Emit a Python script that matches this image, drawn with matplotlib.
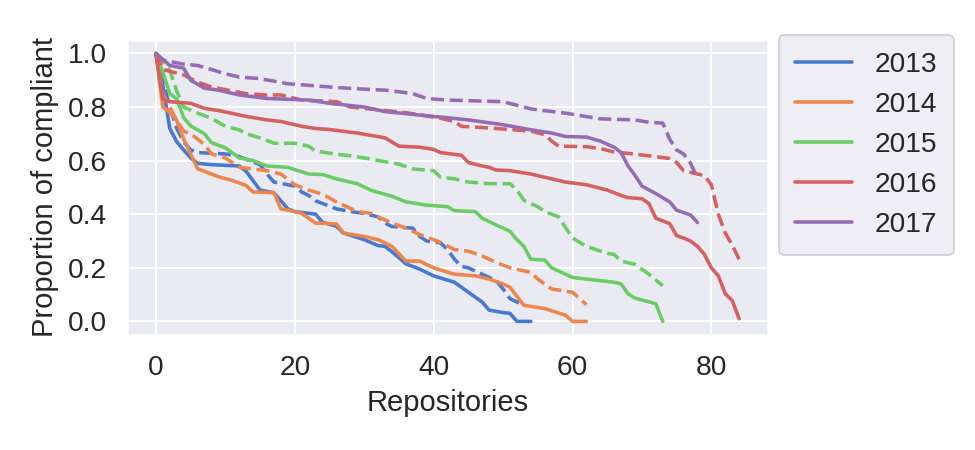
import matplotlib
matplotlib.use("Agg")
import matplotlib.pyplot as plt
import seaborn as sns

# =============================================================================
# Data (knots along each curve)
# =============================================================================

years = ['2013', '2014', '2015', '2016', '2017']

x13s = [0, 1, 2, 3, 4, 5, 6, 8, 12, 13, 14, 15, 17, 18, 19, 20, 23, 24, 26, 27, 30, 32, 33, 34, 36, 38, 40, 43, 45, 47, 48, 50, 51, 52, 54]
y13s = [1.0, 0.88, 0.72, 0.67, 0.64, 0.61, 0.59, 0.585, 0.58, 0.56, 0.525, 0.49, 0.48, 0.45, 0.42, 0.41, 0.40, 0.37, 0.355, 0.33, 0.305, 0.283, 0.28, 0.26, 0.215, 0.195, 0.17, 0.146, 0.109, 0.072, 0.042, 0.033, 0.03, 0.0, 0.0]
x13d = [0, 1, 2, 3, 4, 5, 6, 10, 12, 15, 16, 17, 20, 21, 22, 23, 24, 25, 26, 28, 30, 32, 33, 34, 37, 38, 39, 41, 42, 43, 44, 45, 47, 48, 49, 50, 51, 53]
y13d = [1.0, 0.9, 0.8, 0.72, 0.67, 0.64, 0.63, 0.625, 0.615, 0.585, 0.55, 0.52, 0.505, 0.483, 0.47, 0.45, 0.44, 0.43, 0.42, 0.41, 0.403, 0.39, 0.367, 0.354, 0.348, 0.317, 0.30, 0.293, 0.268, 0.232, 0.205, 0.20, 0.176, 0.164, 0.152, 0.121, 0.085, 0.06]

x14s = [0, 1, 2, 3, 4, 5, 6, 9, 11, 13, 14, 17, 18, 20, 21, 23, 26, 27, 30, 32, 33, 34, 36, 38, 40, 43, 46, 48, 50, 51, 53, 56, 59, 60, 62]
y14s = [1.0, 0.80, 0.78, 0.75, 0.68, 0.625, 0.57, 0.54, 0.526, 0.507, 0.483, 0.48, 0.42, 0.41, 0.403, 0.367, 0.364, 0.33, 0.317, 0.305, 0.293, 0.28, 0.225, 0.225, 0.20, 0.176, 0.17, 0.158, 0.14, 0.127, 0.06, 0.048, 0.023, 0.0, 0.0]
x14d = [0, 1, 2, 3, 4, 5, 7, 8, 10, 12, 14, 16, 18, 20, 22, 24, 26, 27, 29, 31, 32, 34, 36, 38, 40, 41, 43, 45, 47, 49, 51, 54, 55, 57, 60, 62]
y14d = [1.0, 0.85, 0.80, 0.75, 0.71, 0.70, 0.66, 0.625, 0.61, 0.575, 0.569, 0.5625, 0.55, 0.51, 0.49, 0.475, 0.446, 0.434, 0.41, 0.403, 0.39, 0.367, 0.348, 0.324, 0.305, 0.295, 0.268, 0.262, 0.244, 0.22, 0.20, 0.183, 0.158, 0.121, 0.109, 0.0625]

x15s = [0, 1, 2, 3, 4, 5, 7, 8, 10, 12, 14, 16, 19, 22, 24, 26, 29, 31, 34, 36, 39, 42, 43, 46, 47, 49, 51, 52, 53, 54, 56, 57, 60, 62, 66, 67, 68, 69, 72, 73]
y15s = [1.0, 0.93, 0.85, 0.83, 0.76, 0.73, 0.70, 0.667, 0.648, 0.61, 0.60, 0.58, 0.575, 0.55, 0.548, 0.532, 0.514, 0.489, 0.467, 0.446, 0.434, 0.428, 0.413, 0.41, 0.385, 0.36, 0.336, 0.305, 0.28, 0.232, 0.229, 0.20, 0.164, 0.158, 0.146, 0.14, 0.103, 0.087, 0.066, 0.0]
x15d = [0, 1, 2, 3, 4, 6, 8, 10, 12, 13, 15, 17, 20, 22, 23, 26, 28, 30, 33, 35, 37, 40, 41, 43, 45, 48, 51, 52, 53, 55, 56, 58, 59, 60, 62, 65, 66, 67, 69, 71, 73]
y15d = [1.0, 0.97, 0.936, 0.86, 0.80, 0.777, 0.758, 0.728, 0.715, 0.70, 0.685, 0.665, 0.665, 0.654, 0.636, 0.624, 0.618, 0.61, 0.596, 0.587, 0.569, 0.5625, 0.538, 0.532, 0.52, 0.514, 0.514, 0.49, 0.452, 0.428, 0.41, 0.39, 0.35, 0.311, 0.28, 0.254, 0.25, 0.225, 0.213, 0.176, 0.133]

x16s = [0, 1, 2, 5, 7, 9, 13, 16, 18, 21, 23, 25, 29, 33, 35, 38, 40, 41, 44, 45, 47, 48, 49, 51, 54, 56, 59, 62, 65, 67, 68, 70, 71, 72, 73, 74, 75, 76, 77, 78, 79, 80, 81, 82, 83, 84]
y16s = [1.0, 0.83, 0.82, 0.814, 0.795, 0.787, 0.765, 0.752, 0.746, 0.728, 0.72, 0.716, 0.703, 0.685, 0.654, 0.65, 0.642, 0.63, 0.62, 0.593, 0.58, 0.575, 0.565, 0.5625, 0.55, 0.538, 0.52, 0.51, 0.49, 0.47, 0.462, 0.458, 0.44, 0.385, 0.375, 0.365, 0.32, 0.311, 0.30, 0.28, 0.25, 0.20, 0.17, 0.103, 0.078, 0.01]
x16d = [0, 1, 4, 6, 8, 10, 13, 16, 18, 21, 26, 28, 32, 36, 38, 41, 43, 44, 46, 49, 54, 56, 57, 58, 62, 64, 66, 68, 71, 74, 75, 76, 78, 79, 80, 81, 82, 83, 84]
y16d = [1.0, 0.94, 0.92, 0.893, 0.875, 0.865, 0.85, 0.845, 0.845, 0.826, 0.82, 0.80, 0.79, 0.779, 0.771, 0.758, 0.746, 0.728, 0.725, 0.72, 0.71, 0.697, 0.673, 0.654, 0.652, 0.645, 0.632, 0.627, 0.618, 0.608, 0.593, 0.5625, 0.55, 0.544, 0.51, 0.40, 0.33, 0.285, 0.232]

x17s = [0, 2, 4, 5, 7, 9, 12, 16, 22, 25, 30, 33, 38, 42, 45, 50, 54, 57, 59, 62, 64, 66, 67, 68, 69, 70, 72, 74, 75, 77, 78]
y17s = [1.0, 0.955, 0.945, 0.90, 0.87, 0.863, 0.845, 0.832, 0.826, 0.814, 0.80, 0.783, 0.77, 0.76, 0.752, 0.734, 0.715, 0.703, 0.69, 0.688, 0.673, 0.65, 0.63, 0.58, 0.545, 0.505, 0.477, 0.446, 0.415, 0.397, 0.369]
x17d = [0, 1, 4, 6, 8, 10, 12, 15, 19, 22, 26, 29, 33, 35, 37, 39, 42, 50, 54, 59, 64, 69, 71, 73, 74, 75, 76, 77, 78]
y17d = [1.0, 0.975, 0.96, 0.955, 0.94, 0.924, 0.912, 0.906, 0.887, 0.881, 0.873, 0.868, 0.863, 0.857, 0.85, 0.832, 0.826, 0.82, 0.793, 0.777, 0.756, 0.752, 0.743, 0.74, 0.68, 0.64, 0.625, 0.59, 0.535]

solid = [(x13s, y13s), (x14s, y14s), (x15s, y15s), (x16s, y16s), (x17s, y17s)]
dashed = [(x13d, y13d), (x14d, y14d), (x15d, y15d), (x16d, y16d), (x17d, y17d)]

# =============================================================================
# Plot
# =============================================================================

sns.set_theme(style="darkgrid", palette="muted")
plt.rcParams['font.family'] = ['Liberation Sans', 'DejaVu Sans']
colors = sns.color_palette("muted")

fig = plt.figure(figsize=(6.5, 3), dpi=150)
ax = fig.add_axes([0.130, 0.256, 0.658, 0.655])

handles = []
for i, year in enumerate(years):
    h, = ax.plot(solid[i][0], solid[i][1], color=colors[i], lw=1.7, label=year)
    ax.plot(dashed[i][0], dashed[i][1], color=colors[i], lw=1.7, ls='--')
    handles.append(h)

ax.set_xlabel('Repositories', fontsize=14)
ax.set_ylabel('Proportion of compliant', fontsize=14)
ax.set_xticks([0, 20, 40, 60, 80])
ax.set_yticks([0.0, 0.2, 0.4, 0.6, 0.8, 1.0])
ax.tick_params(labelsize=13.5)

ax.legend(handles=handles, loc='upper left', bbox_to_anchor=(1.016, 1.017),
          borderaxespad=0, borderpad=0.6, fontsize=13.5)

fig.savefig('out.png', dpi=150)
